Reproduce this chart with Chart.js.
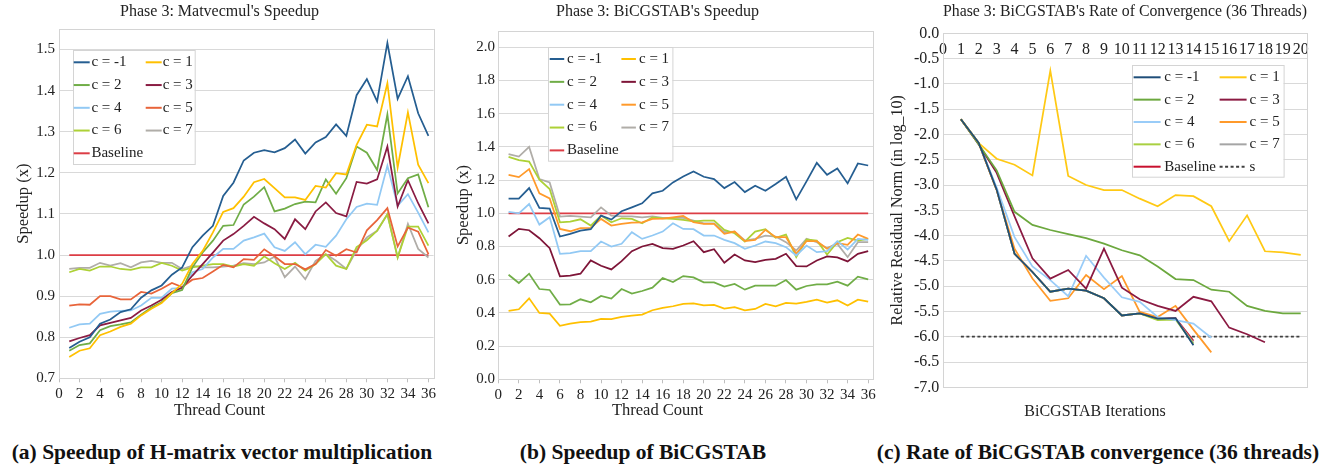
<!DOCTYPE html>
<html>
<head>
<meta charset="utf-8">
<script src="https://cdn.jsdelivr.net/npm/chart.js@4.4.1/dist/chart.umd.min.js"></script>
<style>
  body { margin: 0; background: #fff; width: 1340px; height: 471px; position: relative; overflow: hidden; font-family: "Liberation Serif", serif; }
  canvas { position: absolute; top: 0; }
  .cap { position: absolute; top: 441px; line-height: 22px; font-size: 21.5px; font-weight: bold; white-space: nowrap; transform: translateX(-50%); color: #111; }
</style>
</head>
<body>
<canvas id="matvec" width="439" height="421" style="left:0px"></canvas>
<canvas id="bicg" width="443" height="421" style="left:436px"></canvas>
<canvas id="conv" width="440" height="421" style="left:880px"></canvas>
<div class="cap" style="left:222px">(a) Speedup of H-matrix vector multiplication</div>
<div class="cap" style="left:643px">(b) Speedup of BiCGSTAB</div>
<div class="cap" style="left:1098px">(c) Rate of BiCGSTAB convergence (36 threads)</div>
<script>
// ---- data ----
const threads = [1, 2, 3, 4, 5, 6, 7, 8, 9, 10, 11, 12, 13, 14, 15, 16, 17, 18,
                 19, 20, 21, 22, 23, 24, 25, 26, 27, 28, 29, 30, 31, 32, 33, 34, 35, 36];
const iterations = [1, 2, 3, 4, 5, 6, 7, 8, 9, 10, 11, 12, 13, 14, 15, 16, 17, 18, 19, 20];
const seriesNames = ["c = -1", "c = 1", "c = 2", "c = 3", "c = 4", "c = 5", "c = 6", "c = 7", "Baseline"];

// (a) Matvecmul speedup
const matvecM1 = [0.774, 0.789, 0.800, 0.833, 0.843, 0.861, 0.868, 0.896, 0.914, 0.926, 0.952, 0.970, 1.019, 1.047, 1.071, 1.144, 1.176, 1.230,
                  1.249, 1.255, 1.250, 1.260, 1.281, 1.247, 1.274, 1.287, 1.318, 1.290, 1.389, 1.428, 1.374, 1.516, 1.380, 1.435, 1.345, 1.290];
const matvecC1 = [0.752, 0.767, 0.773, 0.805, 0.814, 0.825, 0.833, 0.853, 0.869, 0.883, 0.907, 0.930, 0.978, 1.010, 1.055, 1.105, 1.114, 1.142,
                  1.177, 1.185, 1.163, 1.140, 1.140, 1.134, 1.168, 1.164, 1.199, 1.196, 1.268, 1.317, 1.313, 1.418, 1.213, 1.347, 1.220, 1.175];
const matvecC2 = [0.767, 0.781, 0.785, 0.817, 0.827, 0.831, 0.836, 0.855, 0.872, 0.885, 0.907, 0.915, 0.970, 1.006, 1.035, 1.071, 1.073, 1.123,
                  1.142, 1.165, 1.106, 1.113, 1.124, 1.130, 1.128, 1.184, 1.149, 1.187, 1.264, 1.249, 1.207, 1.342, 1.150, 1.187, 1.196, 1.116];
const matvecC3 = [0.790, 0.798, 0.805, 0.829, 0.835, 0.841, 0.847, 0.865, 0.877, 0.891, 0.910, 0.920, 0.950, 0.978, 1.006, 1.035, 1.051, 1.071,
                  1.093, 1.077, 1.063, 1.039, 1.087, 1.063, 1.106, 1.128, 1.102, 1.094, 1.178, 1.174, 1.184, 1.264, 1.118, 1.182, 1.126, 1.077];
const matvecC4 = [0.823, 0.831, 0.833, 0.857, 0.862, 0.864, 0.865, 0.877, 0.896, 0.896, 0.918, 0.920, 0.958, 0.966, 0.994, 1.015, 1.015, 1.035,
                  1.043, 1.052, 1.019, 1.010, 1.031, 1.002, 1.025, 1.020, 1.047, 1.087, 1.117, 1.125, 1.122, 1.217, 1.120, 1.148, 1.103, 1.055];
const matvecC5 = [0.877, 0.880, 0.879, 0.900, 0.900, 0.892, 0.892, 0.910, 0.906, 0.918, 0.932, 0.922, 0.940, 0.944, 0.960, 0.976, 0.970, 0.990,
                  0.988, 1.014, 0.997, 0.978, 0.978, 0.965, 0.978, 1.012, 0.998, 1.014, 1.006, 1.060, 1.085, 1.114, 1.021, 1.067, 1.057, 1.002];
const matvecC6 = [0.958, 0.966, 0.962, 0.972, 0.972, 0.966, 0.964, 0.970, 0.970, 0.981, 0.974, 0.962, 0.970, 0.974, 0.978, 0.978, 0.972, 0.978,
                  0.974, 0.997, 0.980, 0.966, 0.981, 0.962, 0.978, 1.002, 0.974, 0.966, 1.019, 1.036, 1.059, 1.099, 0.994, 1.069, 1.069, 1.023];
const matvecC7 = [0.966, 0.969, 0.969, 0.981, 0.974, 0.980, 0.970, 0.982, 0.986, 0.981, 0.981, 0.966, 0.974, 0.970, 0.970, 0.972, 0.974, 0.980,
                  0.978, 0.982, 0.996, 0.946, 0.972, 0.941, 0.986, 1.002, 0.986, 0.966, 1.012, 1.043, 1.059, 1.099, 0.994, 1.076, 1.015, 0.994];
const speedupBaseline = [1.0, 1.0, 1.0, 1.0, 1.0, 1.0, 1.0, 1.0, 1.0, 1.0, 1.0, 1.0, 1.0, 1.0, 1.0, 1.0, 1.0, 1.0,
                         1.0, 1.0, 1.0, 1.0, 1.0, 1.0, 1.0, 1.0, 1.0, 1.0, 1.0, 1.0, 1.0, 1.0, 1.0, 1.0, 1.0, 1.0];

// (b) BiCGSTAB speedup
const bicgM1 = [1.088, 1.088, 1.152, 1.032, 1.028, 0.860, 0.876, 0.896, 0.904, 0.986, 0.962, 1.012, 1.036, 1.060, 1.120, 1.136, 1.186, 1.222,
                1.252, 1.220, 1.206, 1.152, 1.188, 1.128, 1.166, 1.136, 1.176, 1.220, 1.084, 1.192, 1.304, 1.232, 1.270, 1.180, 1.300, 1.288];
const bicgC1 = [0.412, 0.422, 0.488, 0.400, 0.396, 0.322, 0.336, 0.344, 0.348, 0.364, 0.362, 0.376, 0.384, 0.390, 0.416, 0.430, 0.440, 0.454,
                0.458, 0.446, 0.448, 0.426, 0.434, 0.416, 0.424, 0.454, 0.440, 0.460, 0.456, 0.466, 0.480, 0.462, 0.476, 0.444, 0.480, 0.468];
const bicgC2 = [0.630, 0.580, 0.636, 0.544, 0.538, 0.450, 0.452, 0.482, 0.464, 0.502, 0.486, 0.544, 0.516, 0.532, 0.552, 0.610, 0.586, 0.622,
                0.614, 0.584, 0.584, 0.558, 0.574, 0.540, 0.564, 0.564, 0.564, 0.598, 0.540, 0.562, 0.572, 0.572, 0.588, 0.564, 0.618, 0.602];
const bicgC3 = [0.860, 0.906, 0.898, 0.850, 0.790, 0.620, 0.624, 0.636, 0.716, 0.684, 0.662, 0.712, 0.772, 0.800, 0.816, 0.790, 0.786, 0.806,
                0.832, 0.766, 0.784, 0.702, 0.752, 0.716, 0.706, 0.720, 0.726, 0.756, 0.682, 0.680, 0.716, 0.740, 0.734, 0.710, 0.756, 0.772];
const bicgC4 = [1.008, 1.000, 1.056, 0.932, 0.976, 0.756, 0.760, 0.772, 0.772, 0.830, 0.800, 0.816, 0.886, 0.846, 0.866, 0.890, 0.940, 0.906,
                0.904, 0.866, 0.866, 0.840, 0.820, 0.786, 0.806, 0.830, 0.820, 0.796, 0.746, 0.806, 0.766, 0.772, 0.832, 0.782, 0.846, 0.840];
const bicgC5 = [1.232, 1.218, 1.266, 1.120, 1.090, 0.906, 0.892, 0.910, 0.912, 0.966, 0.926, 0.936, 0.944, 0.946, 0.966, 0.968, 0.976, 0.984,
                0.946, 0.936, 0.936, 0.876, 0.890, 0.832, 0.840, 0.900, 0.856, 0.856, 0.756, 0.832, 0.832, 0.786, 0.820, 0.810, 0.872, 0.846];
const bicgC6 = [1.340, 1.320, 1.312, 1.202, 1.146, 0.946, 0.950, 0.964, 0.926, 0.986, 0.946, 0.970, 0.966, 0.940, 0.976, 0.970, 0.966, 0.960,
                0.952, 0.956, 0.956, 0.900, 0.880, 0.830, 0.890, 0.904, 0.852, 0.872, 0.736, 0.842, 0.836, 0.752, 0.826, 0.852, 0.836, 0.846];
const bicgC7 = [1.356, 1.342, 1.400, 1.206, 1.186, 0.980, 0.984, 0.980, 0.976, 1.036, 0.986, 0.982, 0.982, 0.976, 0.982, 0.972, 0.972, 0.972,
                0.956, 0.940, 0.940, 0.886, 0.890, 0.836, 0.846, 0.866, 0.860, 0.826, 0.776, 0.846, 0.826, 0.790, 0.816, 0.736, 0.826, 0.826];

// (c) residual norm (log10) per iteration, 36 threads
const convM1 = [-1.70, -2.17, -3.09, -4.36, -4.72, -5.11, -5.05, -5.09, -5.24, -5.58, -5.54, -5.64, -5.63, -6.17];
const convC1 = [-1.70, -2.17, -2.48, -2.60, -2.81, -0.74, -2.82, -3.00, -3.10, -3.10, -3.27, -3.42, -3.20, -3.22, -3.42, -4.11, -3.60, -4.31, -4.33, -4.38];
const convC2 = [-1.70, -2.20, -2.71, -3.53, -3.79, -3.89, -3.97, -4.05, -4.16, -4.29, -4.39, -4.61, -4.86, -4.88, -5.07, -5.11, -5.39, -5.49, -5.54, -5.54];
const convC3 = [-1.70, -2.20, -2.76, -3.62, -4.45, -4.85, -4.68, -5.05, -4.26, -5.03, -5.26, -5.39, -5.49, -5.21, -5.30, -5.82, -5.95, -6.11];
const convC4 = [-1.70, -2.17, -3.05, -4.03, -4.61, -4.88, -5.20, -4.40, -4.83, -5.22, -5.31, -5.61, -5.67, -5.74, -6.02];
const convC5 = [-1.70, -2.18, -3.10, -4.26, -4.85, -5.29, -5.24, -4.78, -5.06, -4.80, -5.51, -5.61, -5.39, -5.86, -6.31];
const convC6 = [-1.70, -2.17, -3.09, -4.36, -4.72, -5.11, -5.05, -5.09, -5.24, -5.58, -5.54, -5.67, -5.66, -6.14];
const convC7 = [-1.70, -2.17, -3.09, -4.36, -4.72, -5.11, -5.05, -5.09, -5.24, -5.58, -5.54, -5.65, -5.64, -6.12];
const convBaseline = [-1.70, -2.17, -3.09, -4.36, -4.72, -5.11, -5.05, -5.09, -5.24, -5.58, -5.54, -5.64, -5.63, -6.08];
const convTarget = [-6.0, -6.0, -6.0, -6.0, -6.0, -6.0, -6.0, -6.0, -6.0, -6.0, -6.0, -6.0, -6.0, -6.0, -6.0, -6.0, -6.0, -6.0, -6.0, -6.0];

const colorsA = ["#255e91", "#ffc000", "#70ad47", "#8a1c43", "#92c9f4", "#e8643a", "#add136", "#b0ada8", "#dc3d45"];
const colorsB = ["#255e91", "#ffc000", "#70ad47", "#7e1538", "#92c9f4", "#ff9a2b", "#add136", "#b0ada8", "#dc3d45"];
const colorsC = ["#1f4e79", "#ffc914", "#6ca83e", "#8b1a42", "#99ccf8", "#ff9a2b", "#a9d041", "#a5a5a5", "#c8102e"];

// ---- helpers ----
const FONT = '"Liberation Serif", serif';
Chart.defaults.font.family = FONT;
Chart.defaults.color = "#222";

function toPoints(xs, ys) {
    return ys.map((y, i) => ({ x: xs[i], y: y }));
}

function lineSet(label, xs, ys, color) {
    return {
        label: label,
        data: toPoints(xs, ys),
        borderColor: color,
        backgroundColor: color,
        borderWidth: 1.75,
        pointRadius: 0,
        tension: 0,
        fill: false
    };
}

// light frame around the plot area
const plotFrame = {
    id: "plotFrame",
    beforeDatasetsDraw(chart) {
        const { ctx, chartArea: a } = chart;
        ctx.save();
        ctx.strokeStyle = "#d4d4d4";
        ctx.lineWidth = 1;
        ctx.strokeRect(Math.round(a.left) + 0.5, Math.round(a.top) + 0.5,
                       Math.round(a.right) - Math.round(a.left), Math.round(a.bottom) - Math.round(a.top));
        ctx.restore();
    }
};

// two-column boxed legend inside the plot area
const boxLegend = {
    id: "boxLegend",
    afterDraw(chart, args, o) {
        const { ctx, chartArea: a } = chart;
        const x0 = Math.round(a.left + o.x), y0 = Math.round(a.top + o.y);
        ctx.save();
        ctx.fillStyle = "#fff";
        ctx.fillRect(x0, y0, o.w, o.h);
        ctx.strokeStyle = "#d4d4d4";
        ctx.lineWidth = 1;
        ctx.strokeRect(x0 + 0.5, y0 + 0.5, o.w, o.h);
        ctx.font = o.font;
        ctx.textBaseline = "middle";
        chart.data.datasets.forEach((ds, i) => {
            const row = Math.floor(i / 2), col = i % 2;
            const cy = y0 + o.firstRow + row * o.rowGap;
            const lx = x0 + o.lineX[col];
            ctx.strokeStyle = ds.borderColor;
            ctx.lineWidth = 2;
            ctx.setLineDash(ds.borderDash || []);
            ctx.beginPath();
            ctx.moveTo(lx, cy);
            ctx.lineTo(lx + o.lineLen, cy);
            ctx.stroke();
            ctx.setLineDash([]);
            ctx.fillStyle = "#222";
            ctx.fillText(ds.label, x0 + o.textX[col], cy);
        });
        ctx.restore();
    }
};

function speedupChart(id, title, series, colors, y, box) {
    const datasets = series.map((s, i) => lineSet(seriesNames[i], threads, s, colors[i]));
    return new Chart(document.getElementById(id), {
        type: "line",
        data: { datasets: datasets },
        plugins: [plotFrame, boxLegend],
        options: {
            responsive: false,
            animation: false,
            events: [],
            layout: { padding: { left: box.padL, right: box.padR, top: 0, bottom: 0.3 } },
            plugins: {
                legend: { display: false },
                tooltip: { enabled: false },
                title: {
                    display: true, text: title, color: "#222",
                    font: { family: FONT, size: 16, weight: "normal" },
                    padding: { top: 1.9, bottom: box.titleGap }
                },
                // axis caption, centred on the whole panel like the title
                subtitle: {
                    display: true, position: "bottom", text: "Thread Count", color: "#222",
                    font: { family: FONT, size: 16.5, weight: "normal" },
                    padding: { top: 0, bottom: 0 }
                },
                boxLegend: box.legend
            },
            scales: {
                x: {
                    type: "linear", min: 0, max: 36.5,
                    afterFit: s => { s.height = box.xHeight; },
                    border: { color: "#bfbfbf" },
                    grid: { drawOnChartArea: false, drawTicks: true, tickLength: 4, color: "#bfbfbf" },
                    ticks: { stepSize: 2, includeBounds: false, autoSkip: false, maxRotation: 0, padding: 3,
                             color: "#222", font: { family: FONT, size: 15 } }
                },
                y: {
                    min: y.min, max: y.max,
                    afterFit: s => { s.width = box.yWidth; },
                    border: { display: false },
                    grid: { color: "#d9d9d9", drawTicks: false },
                    ticks: { stepSize: y.step, includeBounds: false, padding: box.yTickPad,
                             color: "#222", font: { family: FONT, size: 15 },
                             callback: v => v.toFixed(1) },
                    title: { display: true, text: "Speedup (x)", color: "#222",
                             font: { family: FONT, size: 16.5 }, padding: { top: box.yTitlePad, bottom: 0 } }
                }
            }
        }
    });
}

speedupChart("matvec", "Phase 3: Matvecmul's Speedup",
    [matvecM1, matvecC1, matvecC2, matvecC3, matvecC4, matvecC5, matvecC6, matvecC7, speedupBaseline],
    colorsA,
    { min: 0.7, max: 1.55, step: 0.1 },
    { padL: 5, padR: 5, titleGap: 7.9, xHeight: 22.6, yWidth: 54, yTickPad: 4, yTitlePad: 9.1,
      legend: { x: 14.3, y: 21, w: 121.7, h: 114, firstRow: 12.3, rowGap: 22.75, lineX: [0.7, 72.7], lineLen: 16,
                textX: [18.4, 89.7], font: '15px "Liberation Serif"' } });

speedupChart("bicg", "Phase 3: BiCGSTAB's Speedup",
    [bicgM1, bicgC1, bicgC2, bicgC3, bicgC4, bicgC5, bicgC6, bicgC7, speedupBaseline],
    colorsB,
    { min: 0, max: 2.1, step: 0.2 },
    { padL: 5.7, padR: 5.7, titleGap: 9.6, xHeight: 21.6, yWidth: 56.6, yTickPad: 3.3, yTitlePad: 11.9,
      legend: { x: 50, y: 16.6, w: 124.4, h: 113.7, firstRow: 12, rowGap: 22.85, lineX: [1.7, 73.4], lineLen: 14.5,
                textX: [19, 91], font: '15px "Liberation Serif"' } });

// (c) convergence chart
const convSeries = [convM1, convC1, convC2, convC3, convC4, convC5, convC6, convC7, convBaseline];
const convSets = convSeries.map((s, i) => lineSet(seriesNames[i], iterations, s, colorsC[i]));
convSets.push(Object.assign(lineSet("s", iterations, convTarget, "#404040"), { borderDash: [3, 2.5], borderWidth: 1.75 }));

new Chart(document.getElementById("conv"), {
    type: "line",
    data: { datasets: convSets },
    plugins: [plotFrame, boxLegend],
    options: {
        responsive: false,
        animation: false,
        events: [],
        layout: { padding: { left: 3, right: 13, top: 0, bottom: 0.1 } },
        plugins: {
            legend: { display: false },
            tooltip: { enabled: false },
            title: {
                display: true, fullSize: false, text: "Phase 3: BiCGSTAB's Rate of Convergence (36 Threads)", color: "#222",
                font: { family: FONT, size: 16, weight: "normal" },
                padding: { top: 1.9, bottom: 12.2 }
            },
            subtitle: {
                display: true, position: "bottom", text: "BiCGSTAB Iterations", color: "#222",
                font: { family: FONT, size: 16, weight: "normal" },
                padding: { top: 14.4, bottom: 0 }
            },
            boxLegend: { x: 188.7, y: 31.7, w: 151.6, h: 111.7, firstRow: 12.3, rowGap: 22.35, lineX: [1.6, 87.6], lineLen: 27,
                         textX: [32.3, 117.6], font: '15px "Liberation Serif"' }
        },
        scales: {
            x: {
                type: "linear", min: 0, max: 20.35, position: { y: 0 },
                border: { display: false },
                grid: { display: false, drawTicks: false },
                ticks: { stepSize: 1, includeBounds: false, autoSkip: false, maxRotation: 0, padding: 7,
                         color: "#222", font: { family: FONT, size: 16 } }
            },
            y: {
                min: -7, max: 0,
                afterFit: s => { s.width = 60; },
                border: { display: false },
                grid: { color: "#d9d9d9", drawTicks: false },
                ticks: { stepSize: 0.5, padding: 3.7, color: "#222", font: { family: FONT, size: 16 },
                         callback: v => v.toFixed(1) },
                title: { display: true, text: "Relative Residual Norm (in log_10)", color: "#222",
                         font: { family: FONT, size: 16 }, padding: { top: 5.4, bottom: 0 } }
            }
        }
    }
});
</script>
</body>
</html>
